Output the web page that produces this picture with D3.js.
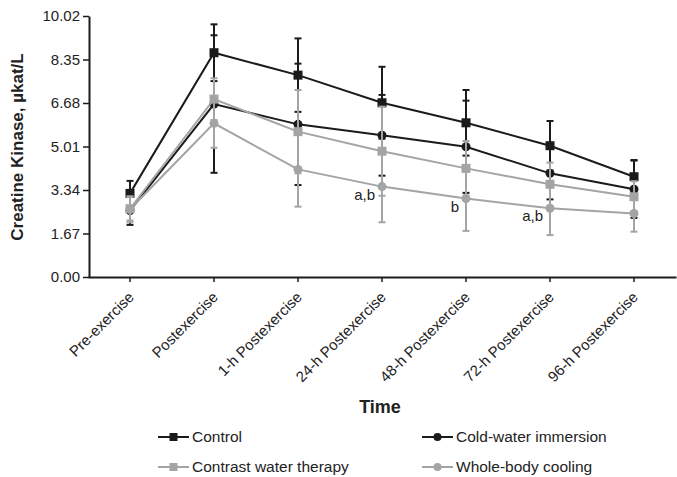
<!DOCTYPE html>
<html>
<head>
<meta charset="utf-8">
<script src="https://cdn.jsdelivr.net/npm/d3@7"></script>
<style>
  body { margin: 0; background: #fff; }
  svg { font-family: "Liberation Sans", Arial, sans-serif; }
</style>
</head>
<body>
<div id="chart"></div>
<script>
// time points
var categories = ['Pre-exercise', 'Postexercise', '1-h Postexercise', '24-h Postexercise',
    '48-h Postexercise', '72-h Postexercise', '96-h Postexercise'];
var yTicks = [0, 1.67, 3.34, 5.01, 6.68, 8.35, 10.02];

// means and SD (µkat/L)
var control = [3.21, 8.61, 7.75, 6.69, 5.92, 5.04, 3.85];
var controlSD = [0.48, 1.09, 1.41, 1.38, 1.26, 0.95, 0.64];
var coldWater = [2.55, 6.64, 5.86, 5.44, 5.00, 3.98, 3.37];
var coldWaterSD = [0.55, 2.64, 2.33, 1.55, 1.77, 1.00, 1.10];
var contrastWater = [2.62, 6.83, 5.58, 4.83, 4.17, 3.56, 3.08];
var contrastWaterSD = [0.45, 0.80, 1.60, 1.71, 1.05, 0.83, 0.60];
var wholeBody = [2.60, 5.90, 4.13, 3.47, 3.01, 2.64, 2.44];
var wholeBodySD = [0.50, 0.94, 1.43, 1.37, 1.24, 1.03, 0.70];
var wholeBodyNotes = ['', '', '', 'a,b', 'b', 'a,b', ''];

var black = '#1c1a1b';
var gray = '#a3a4a6';

var series = [
    {name: 'Control', values: control, sd: controlSD, color: black, shape: 'square'},
    {name: 'Cold-water immersion', values: coldWater, sd: coldWaterSD, color: black, shape: 'circle'},
    {name: 'Contrast water therapy', values: contrastWater, sd: contrastWaterSD, color: gray, shape: 'square'},
    {name: 'Whole-body cooling', values: wholeBody, sd: wholeBodySD, color: gray, shape: 'circle'}
];

var width = 677, height = 477;
var svg = d3.select('#chart').append('svg')
    .attr('width', width)
    .attr('height', height);

var x = d3.scaleBand()
    .domain(categories)
    .range([88, 676]);

var y = d3.scaleLinear()
    .domain([0, 10.02])
    .range([277, 16]);

function cx(i) {
    return x(categories[i]) + x.bandwidth() / 2;
}

// y axis
var yAxis = svg.append('g')
    .attr('transform', 'translate(89,0)')
    .call(d3.axisLeft(y).tickValues(yTicks).tickSize(6).tickSizeOuter(0)
        .tickFormat(function (d) { return d.toFixed(2); }));
yAxis.select('.domain').attr('stroke', black).attr('stroke-width', 2);
yAxis.selectAll('.tick line').attr('stroke', black).attr('stroke-width', 1.5);
yAxis.selectAll('.tick text')
    .attr('font-size', '15px')
    .attr('fill', '#222')
    .attr('x', -9);

// x axis
var xAxis = svg.append('g')
    .attr('transform', 'translate(0,277)')
    .call(d3.axisBottom(x).tickSize(5).tickSizeOuter(0));
xAxis.select('.domain').attr('stroke', black).attr('stroke-width', 2);
xAxis.selectAll('.tick line').attr('stroke', black).attr('stroke-width', 1.5);
xAxis.selectAll('.tick text')
    .attr('font-size', '15px')
    .attr('fill', '#222')
    .attr('text-anchor', 'end')
    .attr('x', 0)
    .attr('y', 0)
    .attr('dy', 0)
    .attr('transform', 'translate(5,21) rotate(-45)');

// axis titles
svg.append('text')
    .attr('transform', 'translate(23,147) rotate(-90)')
    .attr('text-anchor', 'middle')
    .attr('font-size', '17px')
    .attr('font-weight', 'bold')
    .attr('fill', '#222')
    .text('Creatine Kinase, µkat/L');

svg.append('text')
    .attr('x', 380)
    .attr('y', 413)
    .attr('text-anchor', 'middle')
    .attr('font-size', '18px')
    .attr('font-weight', 'bold')
    .attr('fill', '#222')
    .text('Time');

var line = d3.line()
    .x(function (d, i) { return cx(i); })
    .y(function (d) { return y(d); });

series.forEach(function (s) {
    var g = svg.append('g');

    // error bars
    var bars = g.selectAll('.err')
        .data(s.values)
        .enter()
        .append('g')
        .attr('class', 'err');
    bars.append('line')
        .attr('x1', function (d, i) { return cx(i); })
        .attr('x2', function (d, i) { return cx(i); })
        .attr('y1', function (d, i) { return y(d + s.sd[i]); })
        .attr('y2', function (d, i) { return y(d - s.sd[i]); })
        .attr('stroke', s.color)
        .attr('stroke-width', 2);
    [1, -1].forEach(function (dir) {
        bars.append('line')
            .attr('x1', function (d, i) { return cx(i) - 3.5; })
            .attr('x2', function (d, i) { return cx(i) + 3.5; })
            .attr('y1', function (d, i) { return y(d + dir * s.sd[i]); })
            .attr('y2', function (d, i) { return y(d + dir * s.sd[i]); })
            .attr('stroke', s.color)
            .attr('stroke-width', 2);
    });

    g.append('path')
        .datum(s.values)
        .attr('d', line)
        .attr('fill', 'none')
        .attr('stroke', s.color)
        .attr('stroke-width', 2);

    if (s.shape == 'square') {
        g.selectAll('.mk')
            .data(s.values)
            .enter()
            .append('rect')
            .attr('x', function (d, i) { return cx(i) - 4.5; })
            .attr('y', function (d) { return y(d) - 4.5; })
            .attr('width', 9)
            .attr('height', 9)
            .attr('fill', s.color);
    } else {
        g.selectAll('.mk')
            .data(s.values)
            .enter()
            .append('circle')
            .attr('cx', function (d, i) { return cx(i); })
            .attr('cy', function (d) { return y(d); })
            .attr('r', 4.5)
            .attr('fill', s.color);
    }
});

// significance letters on whole-body cooling
svg.append('g')
    .selectAll('text')
    .data(wholeBody)
    .enter()
    .append('text')
    .attr('x', function (d, i) { return cx(i) - 7; })
    .attr('y', function (d) { return y(d) + 13; })
    .attr('text-anchor', 'end')
    .attr('font-size', '15px')
    .attr('fill', '#222')
    .text(function (d, i) { return wholeBodyNotes[i]; });

// legend
var legendPos = [[158, 437], [422, 437], [158, 467], [422, 467]];
var legend = svg.append('g')
    .selectAll('g')
    .data(series)
    .enter()
    .append('g')
    .attr('transform', function (d, i) {
        return 'translate(' + legendPos[i][0] + ',' + legendPos[i][1] + ')';
    });
legend.append('line')
    .attr('x1', 0).attr('x2', 31)
    .attr('y1', 0).attr('y2', 0)
    .attr('stroke', function (d) { return d.color; })
    .attr('stroke-width', 2);
legend.each(function (d) {
    var el = d3.select(this);
    if (d.shape == 'square') {
        el.append('rect')
            .attr('x', 11.5).attr('y', -4)
            .attr('width', 8).attr('height', 8)
            .attr('fill', d.color);
    } else {
        el.append('circle')
            .attr('cx', 15.5).attr('cy', 0)
            .attr('r', 4)
            .attr('fill', d.color);
    }
});
legend.append('text')
    .attr('x', 34)
    .attr('y', 0)
    .attr('dy', '0.35em')
    .attr('font-size', '15.5px')
    .attr('fill', '#222')
    .text(function (d) { return d.name; });
</script>
</body>
</html>
